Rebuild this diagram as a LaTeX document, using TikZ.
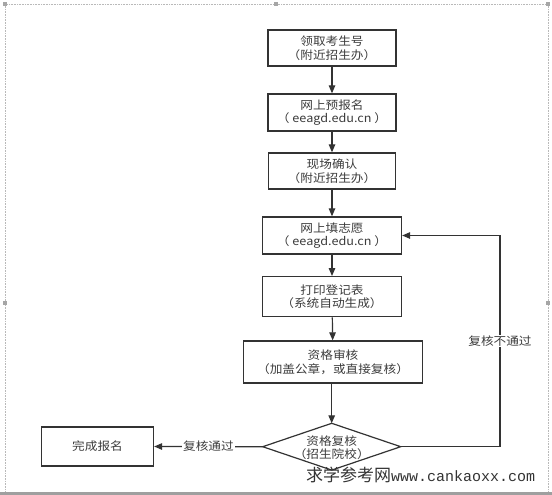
\documentclass[tikz,border=0pt]{standalone}
\usepackage{fontspec}
\usetikzlibrary{arrows.meta}
\newfontfamily\cjk[FakeStretch=1.1]{Noto Sans CJK SC}
\newfontfamily\wmcjk{Noto Sans CJK SC}
\newfontfamily\wmlat{Liberation Mono}
\definecolor{ln}{HTML}{333333}
\definecolor{tx}{HTML}{3C3C3C}
\begin{document}
\begin{tikzpicture}[x=1pt,y=-1pt,
  stepbox/.style={draw=ln,line width=1.3pt,fill=white,align=center,inner sep=0pt,
    font=\cjk\fontsize{11.5}{13.5}\selectfont,text=tx},
  flow/.style={draw=ln,line width=1.2pt,-{Triangle[length=8pt,width=6.5pt]}},
  lbl/.style={fill=white,inner sep=1pt,font=\cjk\fontsize{11.5}{13.5}\selectfont,text=tx},
  handle/.style={fill=gray!70,minimum size=4pt,inner sep=0pt}]
\useasboundingbox (0,0) rectangle (552,495);
\fill[white] (0,0) rectangle (552,495);
% outer frame
\draw[gray!55,densely dotted,line width=0.6pt] (5,600) -- (5,4) -- (548,4) -- (548,600);
\node[handle] (h1) at (5,4) {};
\node[handle] (h2) at (276,4) {};
\node[handle] (h3) at (548,4) {};
\node[handle] (h4) at (5,303) {};
\node[handle] (h5) at (548,303) {};
\fill[gray!75] (0,492) rectangle (552,495);
% boxes
\node[stepbox,minimum width=128pt,minimum height=36pt] (b1) at (332,48) {领取考生号\\（附近招生办）};
\node[stepbox,minimum width=128pt,minimum height=37pt] (b2) at (332,112.5) {网上预报名\\（ eeagd.edu.cn ）};
\node[stepbox,minimum width=127pt,minimum height=36pt] (b3) at (332,171) {现场确认\\（附近招生办）};
\node[stepbox,minimum width=139pt,minimum height=37pt] (b4) at (332,235.5) {网上填志愿\\（ eeagd.edu.cn ）};
\node[stepbox,minimum width=139pt,minimum height=40pt] (b5) at (332,296.7) {打印登记表\\（系统自动生成）};
\node[stepbox,minimum width=179pt,minimum height=42pt] (b6) at (333,362) {资格审核\\（加盖公章，或直接复核）};
\node[stepbox,minimum width=112pt,minimum height=39pt] (done) at (97.5,446.5) {完成报名};
% diamond
\coordinate (dl) at (262.7,446.7);
\coordinate (dr) at (400.7,446.7);
\coordinate (dt) at (331.7,423.3);
\coordinate (db) at (331.7,470.1);
\draw[ln,line width=1.2pt,fill=white] (dl) -- (dt) -- (dr) -- (db) -- cycle;
\node[align=center,inner sep=0pt,font=\cjk\fontsize{11.5}{13.5}\selectfont,text=tx] (d) at (331.7,447.5) {资格复核\\（招生院校）};
% connectors
\draw[flow] (b1) -- (b2);
\draw[flow] (b2) -- (b3);
\draw[flow] (b3) -- (b4);
\draw[flow] (b4) -- (b5);
\draw[flow] (b5) -- (b6);
\draw[flow] (b6.south -| dt) -- (dt);
\draw[flow] (dl) -- node[lbl] (l1) {复核通过} (done.east);
\coordinate (c1) at (500,446.7);
\coordinate (c2) at (500,235.5);
\draw[flow] (dr) -- (c1) -- node[lbl,pos=0.5] (l2) {复核不通过} (c2) -- (b4.east);
% watermark
\node[anchor=west,inner sep=0pt,text=ln] (wm) at (306,475) {\wmcjk\fontsize{17}{17}\selectfont 求学参考网\wmlat\fontsize{15}{15}\selectfont www.cankaoxx.com};
\end{tikzpicture}
\end{document}
